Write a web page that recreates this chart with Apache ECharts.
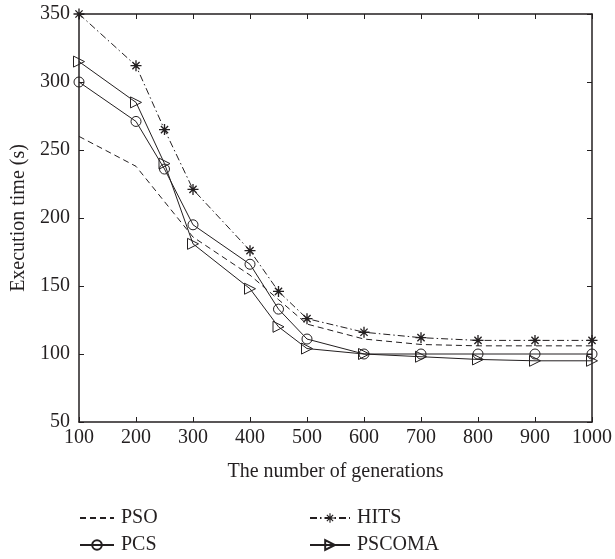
<!DOCTYPE html>
<html>
<head>
<meta charset="utf-8">
<script src="https://cdn.jsdelivr.net/npm/echarts@6/dist/echarts.min.js"></script>
<style>
html,body{margin:0;padding:0;background:#fff;}
#chart{width:615px;height:559px;}
</style>
</head>
<body>
<div id="chart"></div>
<script>
var generations = [100, 200, 250, 300, 400, 450, 500, 600, 700, 800, 900, 1000];
var psoValues = [260, 238, 212, 186, 158, 140, 122, 111, 107, 106, 106, 106];
var pcsValues = [300, 271, 236, 195, 166, 133, 111, 100, 100, 100, 100, 100];
var hitsValues = [350, 312, 265, 221, 176, 146, 126, 116, 112, 110, 110, 110];
var pscomaValues = [315, 285, 240, 181, 148, 120, 104, 100, 98, 96, 95, 95];
var xTitle = 'The number of generations';
var yTitle = 'Execution time (s)';

function pairs(vals) {
  return generations.map(function (g, i) { return [g, vals[i]]; });
}

var INK = '#231f20';
var FONT = 'Liberation Serif';
var starPath = 'path://M0 8.8L20 8.8L20 11.2L0 11.2Z M8.8 0L11.2 0L11.2 20L8.8 20Z M2.6 4.3L4.3 2.6L17.4 15.7L15.7 17.4Z M15.7 2.6L17.4 4.3L4.3 17.4L2.6 15.7Z';

var chart = echarts.init(document.getElementById('chart'), null, {renderer: 'canvas'});

var axisCommon = {
  axisLine: {show: true, onZero: false, lineStyle: {color: INK, width: 1.5}},
  axisTick: {show: true, inside: true, length: 5, lineStyle: {color: INK, width: 1}},
  splitLine: {show: false}
};

function legendAt(name, left, top, w, hideSymbol) {
  var l = {
    data: [name], left: left, top: top, orient: 'horizontal',
    itemWidth: w, itemHeight: 12, itemGap: 10, padding: 0,
    textStyle: {fontFamily: FONT, fontSize: 20, color: INK, padding: [0, 0, 0, 2]}
  };
  if (hideSymbol) {
    l.itemStyle = {color: 'rgba(0,0,0,0)', borderColor: 'rgba(0,0,0,0)', borderWidth: 0};
  }
  return l;
}

chart.setOption({
  animation: false,
  backgroundColor: '#fff',
  grid: {left: 79, right: 18, top: 14, bottom: 137, containLabel: false},
  legend: [
    legendAt('PSO', 79, 508, 34, true),
    legendAt('PCS', 79, 535, 34),
    legendAt('HITS', 309, 508, 40),
    legendAt('PSCOMA', 309, 535, 40)
  ],
  xAxis: [
    Object.assign({
      type: 'value', min: 100, max: 1000, interval: 100, position: 'bottom',
      name: xTitle, nameLocation: 'middle', nameGap: 40,
      nameTextStyle: {fontFamily: FONT, fontSize: 20, color: INK},
      axisLabel: {fontFamily: FONT, fontSize: 20, color: INK, margin: 6,
        formatter: function (v) { return String(v); }}
    }, axisCommon),
    Object.assign({
      type: 'value', min: 100, max: 1000, interval: 100, position: 'top',
      axisLabel: {show: false}
    }, axisCommon)
  ],
  yAxis: [
    Object.assign({
      type: 'value', min: 50, max: 350, interval: 50, position: 'left',
      name: yTitle, nameLocation: 'middle', nameGap: 45,
      nameTextStyle: {fontFamily: FONT, fontSize: 20, color: INK},
      axisLabel: {fontFamily: FONT, fontSize: 20, color: INK, margin: 9}
    }, axisCommon),
    Object.assign({
      type: 'value', min: 50, max: 350, interval: 50, position: 'right',
      axisLabel: {show: false}
    }, axisCommon)
  ],
  series: [
    {
      name: 'PSO', type: 'line', data: pairs(psoValues), symbol: 'none',
      lineStyle: {color: INK, width: 1, type: [6, 4]},
      itemStyle: {color: INK}
    },
    {
      name: 'HITS', type: 'line', data: pairs(hitsValues), symbol: starPath,
      symbolSize: 11, symbolKeepAspect: true,
      lineStyle: {color: INK, width: 1, type: [7, 3, 1.5, 3]},
      itemStyle: {color: INK, borderWidth: 0}
    },
    {
      name: 'PCS', type: 'line', data: pairs(pcsValues), symbol: 'circle',
      symbolSize: 10,
      lineStyle: {color: INK, width: 1},
      itemStyle: {color: 'rgba(255,255,255,0)', borderColor: INK, borderWidth: 1}
    },
    {
      name: 'PSCOMA', type: 'line', data: pairs(pscomaValues), symbol: 'triangle',
      symbolSize: 11, symbolRotate: -90,
      lineStyle: {color: INK, width: 1},
      itemStyle: {color: 'rgba(255,255,255,0)', borderColor: INK, borderWidth: 1}
    }
  ]
});
</script>
</body>
</html>
